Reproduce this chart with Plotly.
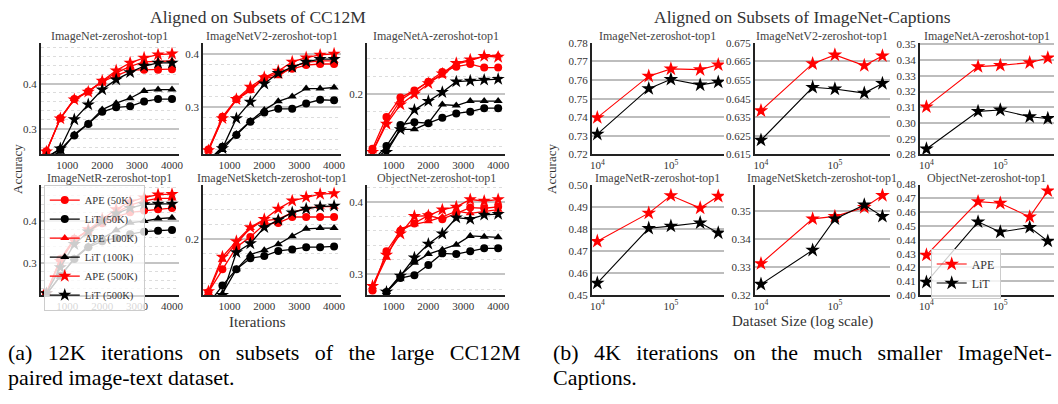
import plotly.graph_objects as go

W, H = 1058, 404

# ---------------- data ----------------
iters = [400, 800, 1200, 1600, 2000, 2400, 2800, 3200, 3600, 4000]
sizes = [1e4, 5e4, 1e5, 2.5e5, 4.4e5]

# (a) CC12M subsets  -- APE / LiT for 50K, 100K, 500K
in_ape50 = [0.251, 0.324, 0.366, 0.383, 0.404, 0.418, 0.430, 0.431, 0.431, 0.432]
in_lit50 = [0.238, 0.255, 0.286, 0.311, 0.338, 0.348, 0.350, 0.361, 0.366, 0.366]
in_ape100 = [0.250, 0.323, 0.366, 0.383, 0.405, 0.424, 0.438, 0.448, 0.449, 0.450]
in_lit100 = [0.236, 0.250, 0.288, 0.312, 0.343, 0.357, 0.368, 0.384, 0.387, 0.387]
in_ape500 = [0.250, 0.323, 0.365, 0.382, 0.406, 0.429, 0.446, 0.457, 0.464, 0.466]
in_lit500 = [0.237, 0.257, 0.321, 0.354, 0.387, 0.409, 0.425, 0.439, 0.446, 0.446]

v2_ape50 = [0.221, 0.282, 0.315, 0.333, 0.355, 0.364, 0.372, 0.379, 0.381, 0.381]
v2_lit50 = [0.200, 0.226, 0.248, 0.273, 0.290, 0.297, 0.297, 0.307, 0.314, 0.313]
v2_ape100 = [0.219, 0.278, 0.314, 0.331, 0.354, 0.358, 0.376, 0.384, 0.387, 0.387]
v2_lit100 = [0.198, 0.220, 0.250, 0.274, 0.295, 0.311, 0.320, 0.335, 0.335, 0.337]
v2_ape500 = [0.219, 0.279, 0.315, 0.338, 0.356, 0.368, 0.385, 0.393, 0.398, 0.400]
v2_lit500 = [0.199, 0.223, 0.279, 0.310, 0.344, 0.364, 0.375, 0.385, 0.390, 0.390]

a_ape50 = [0.138, 0.174, 0.196, 0.204, 0.214, 0.225, 0.231, 0.234, 0.230, 0.230]
a_lit50 = [0.124, 0.141, 0.165, 0.168, 0.167, 0.173, 0.178, 0.180, 0.184, 0.184]
a_ape100 = [0.135, 0.168, 0.193, 0.203, 0.214, 0.221, 0.234, 0.238, 0.243, 0.244]
a_lit100 = [0.123, 0.137, 0.160, 0.160, 0.167, 0.188, 0.187, 0.192, 0.192, 0.192]
a_ape500 = [0.134, 0.166, 0.188, 0.200, 0.212, 0.223, 0.235, 0.239, 0.243, 0.242]
a_lit500 = [0.122, 0.134, 0.160, 0.182, 0.192, 0.202, 0.214, 0.215, 0.216, 0.217]

r_ape50 = [0.230, 0.310, 0.358, 0.375, 0.395, 0.410, 0.421, 0.425, 0.428, 0.431]
r_lit50 = [0.226, 0.270, 0.310, 0.338, 0.352, 0.360, 0.369, 0.375, 0.377, 0.379]
r_ape100 = [0.229, 0.308, 0.357, 0.378, 0.400, 0.420, 0.438, 0.448, 0.454, 0.454]
r_lit100 = [0.226, 0.268, 0.312, 0.340, 0.360, 0.378, 0.396, 0.400, 0.406, 0.408]
r_ape500 = [0.228, 0.305, 0.355, 0.380, 0.405, 0.428, 0.446, 0.456, 0.463, 0.464]
r_lit500 = [0.228, 0.290, 0.345, 0.375, 0.400, 0.418, 0.431, 0.440, 0.441, 0.441]

s_ape50 = [0.128, 0.159, 0.189, 0.203, 0.220, 0.222, 0.230, 0.230, 0.230, 0.230]
s_lit50 = [0.112, 0.137, 0.159, 0.174, 0.177, 0.184, 0.186, 0.189, 0.189, 0.190]
s_ape100 = [0.127, 0.172, 0.194, 0.215, 0.225, 0.227, 0.236, 0.242, 0.244, 0.244]
s_lit100 = [0.110, 0.126, 0.159, 0.179, 0.185, 0.193, 0.204, 0.214, 0.215, 0.215]
s_ape500 = [0.129, 0.176, 0.197, 0.216, 0.227, 0.241, 0.252, 0.257, 0.261, 0.262]
s_lit500 = [0.110, 0.124, 0.182, 0.194, 0.216, 0.226, 0.236, 0.241, 0.244, 0.245]

o_ape50 = [0.278, 0.332, 0.360, 0.370, 0.381, 0.376, 0.384, 0.392, 0.391, 0.393]
o_lit50 = [0.255, 0.276, 0.295, 0.299, 0.313, 0.329, 0.328, 0.332, 0.336, 0.336]
o_ape100 = [0.283, 0.323, 0.363, 0.369, 0.373, 0.379, 0.387, 0.384, 0.387, 0.389]
o_lit100 = [0.256, 0.276, 0.299, 0.316, 0.328, 0.334, 0.341, 0.353, 0.352, 0.351]
o_ape500 = [0.284, 0.327, 0.356, 0.380, 0.381, 0.389, 0.393, 0.403, 0.401, 0.403]
o_lit500 = [0.257, 0.276, 0.298, 0.323, 0.342, 0.356, 0.378, 0.376, 0.382, 0.383]

# (b) ImageNet-Captions subsets
cin_ape = [0.7398, 0.7621, 0.7660, 0.7656, 0.7682]
cin_lit = [0.7309, 0.7554, 0.7604, 0.7574, 0.7589]
cv2_ape = [0.6385, 0.6638, 0.6685, 0.6628, 0.6680]
cv2_lit = [0.6227, 0.6511, 0.6502, 0.6480, 0.6532]
ca_ape = [0.3103, 0.3359, 0.3367, 0.3384, 0.3414]
ca_lit = [0.2835, 0.3074, 0.3083, 0.3040, 0.3029]
cr_ape = [0.4745, 0.4873, 0.4953, 0.4896, 0.4950]
cr_lit = [0.4555, 0.4804, 0.4814, 0.4829, 0.4783]
cs_ape = [0.3313, 0.3473, 0.3482, 0.3514, 0.3557]
cs_lit = [0.3239, 0.3361, 0.3473, 0.3523, 0.3482]
co_ape = [0.4290, 0.4676, 0.4665, 0.4566, 0.4754]
co_lit = [0.4094, 0.4530, 0.4457, 0.4490, 0.4391]

left_titles = ["ImageNet-zeroshot-top1", "ImageNetV2-zeroshot-top1", "ImageNetA-zeroshot-top1",
               "ImageNetR-zeroshot-top1", "ImageNetSketch-zeroshot-top1", "ObjectNet-zeroshot-top1"]
right_titles = left_titles
left_series = [
    [in_ape50, in_lit50, in_ape100, in_lit100, in_ape500, in_lit500],
    [v2_ape50, v2_lit50, v2_ape100, v2_lit100, v2_ape500, v2_lit500],
    [a_ape50, a_lit50, a_ape100, a_lit100, a_ape500, a_lit500],
    [r_ape50, r_lit50, r_ape100, r_lit100, r_ape500, r_lit500],
    [s_ape50, s_lit50, s_ape100, s_lit100, s_ape500, s_lit500],
    [o_ape50, o_lit50, o_ape100, o_lit100, o_ape500, o_lit500],
]
left_names = ["APE (50K)", "LiT (50K)", "APE (100K)", "LiT (100K)", "APE (500K)", "LiT (500K)"]
right_series = [[cin_ape, cin_lit], [cv2_ape, cv2_lit], [ca_ape, ca_lit],
                [cr_ape, cr_lit], [cs_ape, cs_lit], [co_ape, co_lit]]
right_names = ["APE", "LiT"]

caption_a = ["(a) 12K iterations on subsets of the large CC12M", "paired image-text dataset."]
caption_b = ["(b) 4K iterations on the much smaller ImageNet-", "Captions."]

# ---------------- layout geometry ----------------
FONT = "Liberation Serif"
TXT = "#333333"
left_cols = [(39, 178), (202, 341), (367, 506)]
right_cols = [(593, 726), (757, 893), (923, 1058)]
rows = [(38, 153), (184, 298)]
left_yr = [[0.244, 0.49], [0.2115, 0.4206], [0.1315, 0.258],
           [0.224, 0.487], [0.124, 0.274], [0.2716, 0.4236]]
right_yr = [[0.72, 0.78], [0.615, 0.675], [0.28, 0.351],
            [0.45, 0.5003], [0.32, 0.3596], [0.40, 0.480]]
right_xr = [[3.923, 5.72], [3.915, 5.745], [3.91, 5.727]]
right_tick0 = [0.72, 0.615, 0.28, 0.45, 0.32, 0.40]
right_fmt = [".2f", ".3f", ".2f", ".2f", ".2f", ".2f"]


def px_x(p):
    return p / W


def px_y(p):
    return 1 - p / H


def justify(line):
    # widen inter-word gaps to mimic the justified caption line
    return " \u00a0\u2009".join(line.split(" "))


fig = go.Figure()
layout = dict()
annotations = []

colors = ["red", "black"] * 3
symbols = ["circle", "circle", "triangle-up", "triangle-up", "star", "star"]
sizes_m = [8, 8, 8, 8, 10, 10]

ax = 0
for i in range(6):
    ax += 1
    r, c = divmod(i, 3)
    xs = "" if ax == 1 else str(ax)
    x0, x1 = left_cols[c]
    y0, y1 = rows[r]
    for k in range(6):
        fig.add_trace(go.Scatter(
            x=iters, y=left_series[i][k], mode="lines+markers", name=left_names[k],
            line=dict(color=colors[k], width=1.3),
            marker=dict(color=colors[k], symbol=symbols[k], size=sizes_m[k], line=dict(width=0)),
            xaxis="x" + xs, yaxis="y" + xs, showlegend=(i == 3), legend="legend"))
    layout["xaxis" + xs] = dict(domain=[px_x(x0), px_x(x1)], anchor="y" + xs, range=[240, 4200],
                                tickvals=[1000, 2000, 3000, 4000], showgrid=False, zeroline=False,
                                showline=True, linecolor="#222", linewidth=1.5, ticks="",
                                tickfont=dict(family=FONT, size=11, color=TXT))
    layout["yaxis" + xs] = dict(domain=[px_y(y1), px_y(y0)], anchor="x" + xs, range=left_yr[i],
                                dtick=0.1, tick0=0, tickformat=".1f", showgrid=True,
                                gridcolor="#c4c4c4", gridwidth=1.5, zeroline=False,
                                showline=True, linecolor="#222", linewidth=1.5, ticks="",
                                tickfont=dict(family=FONT, size=11, color=TXT),
                                minor=dict(dtick=0.02, tick0=0, showgrid=True, gridcolor="#dcdcdc",
                                           griddash="dot", gridwidth=1))
    annotations.append(dict(text=left_titles[i], x=px_x((x0 + x1) / 2), y=px_y(y0 - 7),
                            xref="paper", yref="paper", showarrow=False, xanchor="center",
                            yanchor="middle", font=dict(family=FONT, size=12, color="#444")))

for i in range(6):
    ax += 1
    r, c = divmod(i, 3)
    xs = str(ax)
    x0, x1 = right_cols[c]
    y0, y1 = rows[r]
    for k in range(2):
        fig.add_trace(go.Scatter(
            x=sizes, y=right_series[i][k], mode="lines+markers", name=right_names[k],
            line=dict(color=["red", "black"][k], width=1.1),
            marker=dict(color=["red", "black"][k], symbol="star", size=11, line=dict(width=0)),
            xaxis="x" + xs, yaxis="y" + xs, showlegend=(i == 5), legend="legend2"))
    layout["xaxis" + xs] = dict(domain=[px_x(x0), min(1.0, px_x(x1))], anchor="y" + xs, type="log",
                                range=right_xr[c], tickvals=[1e4, 1e5],
                                ticktext=["10<sup>4</sup>", "10<sup>5</sup>"], showgrid=False,
                                zeroline=False, showline=True, linecolor="#222", linewidth=1.5,
                                ticks="", tickfont=dict(family=FONT, size=11, color=TXT))
    layout["yaxis" + xs] = dict(domain=[px_y(y1), px_y(y0)], anchor="x" + xs, range=right_yr[i],
                                dtick=0.01, tick0=right_tick0[i], tickformat=right_fmt[i],
                                showgrid=True, gridcolor="#bdbdbd", gridwidth=1.5, zeroline=False,
                                showline=True, linecolor="#222", linewidth=1.5, ticks="",
                                tickfont=dict(family=FONT, size=11, color=TXT))
    annotations.append(dict(text=right_titles[i], x=px_x((x0 + x1) / 2), y=px_y(y0 - 7),
                            xref="paper", yref="paper", showarrow=False, xanchor="center",
                            yanchor="middle", font=dict(family=FONT, size=12, color="#444")))


def ann(text, x, y, size, color="#333", xanchor="center", angle=0, family=FONT):
    annotations.append(dict(text=text, x=px_x(x), y=px_y(y), xref="paper", yref="paper",
                            showarrow=False, xanchor=xanchor, yanchor="middle", textangle=angle,
                            font=dict(family=family, size=size, color=color)))


ann("Aligned on Subsets of CC12M", 257, 11, 17.5)
ann("Aligned on Subsets of ImageNet-Captions", 805, 11, 17.5)
ann("Accuracy", 15, 168, 13, angle=-90)
ann("Accuracy", 552, 168, 13, angle=-90)
ann("Iterations", 257, 326, 15)
ann("Dataset Size (log scale)", 805, 325, 15)
ann(justify(caption_a[0]), 4, 357, 22, color="black", xanchor="left")
ann(caption_a[1], 4, 383, 22, color="black", xanchor="left")
ann(justify(caption_b[0]), 552, 357, 22, color="black", xanchor="left")
ann(caption_b[1], 552, 383, 22, color="black", xanchor="left")

fig.update_layout(
    width=W, height=H, margin=dict(l=0, r=0, t=0, b=0),
    paper_bgcolor="white", plot_bgcolor="white",
    annotations=annotations,
    legend=dict(x=px_x(42), y=px_y(184), xanchor="left", yanchor="top",
                bgcolor="rgba(255,255,255,0.8)", bordercolor="#cccccc", borderwidth=1,
                font=dict(family=FONT, size=10.5, color="#333"), itemwidth=30,
                tracegroupgap=0),
    legend2=dict(x=px_x(934), y=px_y(250), xanchor="left", yanchor="top",
                 bgcolor="rgba(255,255,255,0.8)", bordercolor="#cccccc", borderwidth=1,
                 font=dict(family=FONT, size=12, color="#333"), itemwidth=30),
    **layout,
)

fig.write_html("out.html")
